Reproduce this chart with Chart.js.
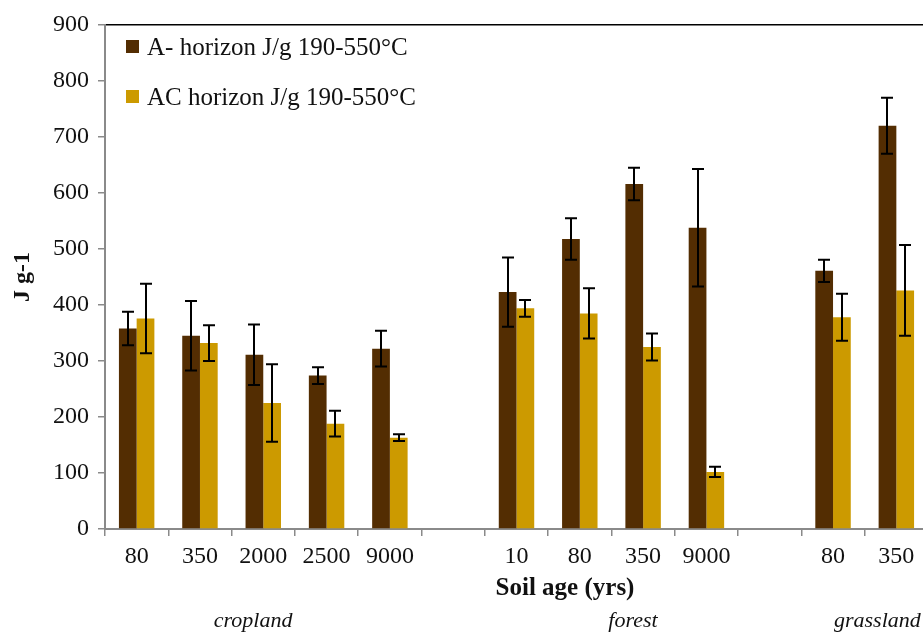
<!DOCTYPE html>
<html><head><meta charset="utf-8">
<script src="https://cdn.jsdelivr.net/npm/chart.js@4.4.0/dist/chart.umd.min.js"></script>
<style>
html,body{margin:0;padding:0;overflow:hidden;background:#fff}
#wrap{width:930px;height:634px;position:relative}
</style>
</head><body><div id="wrap"><canvas id="c"></canvas></div>
<script>
const categories = ['80','350','2000','2500','9000','','10','80','350','9000','','80','350'];
const seriesNames = ['A- horizon J/g 190-550°C', 'AC horizon J/g 190-550°C'];
const aHorizon   = [358, 345, 311, 274, 322, null, 423, 518, 616, 538, null, 461, 720];
const aHorizonErr= [30, 62, 54, 15, 32, null, 62, 37, 29, 105, null, 20, 50];
const acHorizon  = [376, 332, 225, 188, 163, null, 394, 385, 325, 102, null, 378, 426];
const acHorizonErr=[62, 32, 69, 23, 6, null, 15, 45, 24, 9, null, 42, 81];
const yTicks = [0,100,200,300,400,500,600,700,800,900];
const groupNames = ['cropland','forest','grassland'];
const groupCenters = [1.84, 7.84, 11.7]; // category-index position of each group caption

const COL_A = '#532D02';
const COL_AC = '#CC9A00';
const SERIF = '"Liberation Serif", "Times New Roman", serif';

const errorBars = {
  id: 'errorBars',
  afterDatasetsDraw(chart) {
    const ctx = chart.ctx, ys = chart.scales.y;
    ctx.save();
    ctx.strokeStyle = '#000';
    ctx.lineWidth = 2;
    chart.data.datasets.forEach((ds, i) => {
      const meta = chart.getDatasetMeta(i);
      meta.data.forEach((el, j) => {
        const v = ds.data[j], e = ds.errors[j];
        if (v == null || e == null) return;
        const x = Math.round(el.x);
        const yt = ys.getPixelForValue(v + e), yb = ys.getPixelForValue(v - e);
        ctx.beginPath();
        ctx.moveTo(x, yt); ctx.lineTo(x, yb);
        ctx.moveTo(x - 6, yt); ctx.lineTo(x + 6, yt);
        ctx.moveTo(x - 6, yb); ctx.lineTo(x + 6, yb);
        ctx.stroke();
      });
    });
    ctx.restore();
  }
};

const decorations = {
  id: 'decorations',
  afterDraw(chart) {
    const ctx = chart.ctx, ca = chart.chartArea, xs = chart.scales.x;
    ctx.save();
    // legend
    ctx.font = '25px ' + SERIF;
    ctx.textBaseline = 'middle';
    chart.data.datasets.forEach((ds, i) => {
      const y = ca.top + 22 + i * 50;
      ctx.fillStyle = ds.backgroundColor;
      ctx.fillRect(ca.left + 21, y - 7, 13, 13);
      ctx.fillStyle = '#111';
      ctx.fillText(ds.label, ca.left + 42, y + 1);
    });
    // x title
    ctx.font = 'bold 25px ' + SERIF;
    ctx.textAlign = 'center';
    ctx.fillStyle = '#111';
    ctx.fillText('Soil age (yrs)', ca.left + 460, ca.bottom + 60);
    // group captions
    ctx.font = 'italic 22px ' + SERIF;
    groupNames.forEach((g, k) => {
      ctx.fillText(g, xs.getPixelForValue(groupCenters[k]), ca.bottom + 92);
    });
    ctx.restore();
  }
};

new Chart(document.getElementById('c'), {
  type: 'bar',
  data: {
    labels: categories,
    datasets: [
      { label: seriesNames[0], data: aHorizon, errors: aHorizonErr, backgroundColor: COL_A,
        categoryPercentage: 0.56, barPercentage: 1.0 },
      { label: seriesNames[1], data: acHorizon, errors: acHorizonErr, backgroundColor: COL_AC,
        categoryPercentage: 0.56, barPercentage: 1.0 }
    ]
  },
  options: {
    responsive: true,
    maintainAspectRatio: false,
    animation: false,
    layout: { padding: { top: 25, right: 2, left: 0, bottom: 0 } },
    plugins: { legend: { display: false }, tooltip: { enabled: false } },
    scales: {
      x: {
        type: 'category',
        position: 'bottom',
        afterFit(s) { s.height = 105; },
        grid: { display: true, drawOnChartArea: false, offset: true, tickLength: 7, color: '#8a8a8a', lineWidth: 1.5 },
        border: { display: true, color: '#8a8a8a', width: 2 },
        ticks: { color: '#111', font: { family: SERIF, size: 24 }, padding: 6, maxRotation: 0, autoSkip: false }
      },
      x2: {
        type: 'category',
        position: 'top',
        afterFit(s) { s.height = 0; },
        grid: { display: true, drawOnChartArea: false, drawTicks: false, tickLength: 0 },
        border: { display: true, color: '#000', width: 1.5 },
        ticks: { display: false }
      },
      y: {
        min: 0, max: 900,
        afterFit(s) { s.width = 105; },
        afterBuildTicks(s) { s.ticks = yTicks.map(v => ({ value: v })); },
        grid: { display: true, drawOnChartArea: false, tickLength: 7, color: '#8a8a8a', lineWidth: 1.5 },
        border: { display: true, color: '#8a8a8a', width: 2 },
        ticks: { color: '#111', font: { family: SERIF, size: 24 }, padding: 9 },
        title: { display: true, text: 'J g-1', color: '#111', font: { family: SERIF, size: 24, weight: 'bold' }, padding: { top: 8, bottom: 4 } }
      }
    }
  },
  plugins: [errorBars, decorations]
});
</script>
</body></html>
